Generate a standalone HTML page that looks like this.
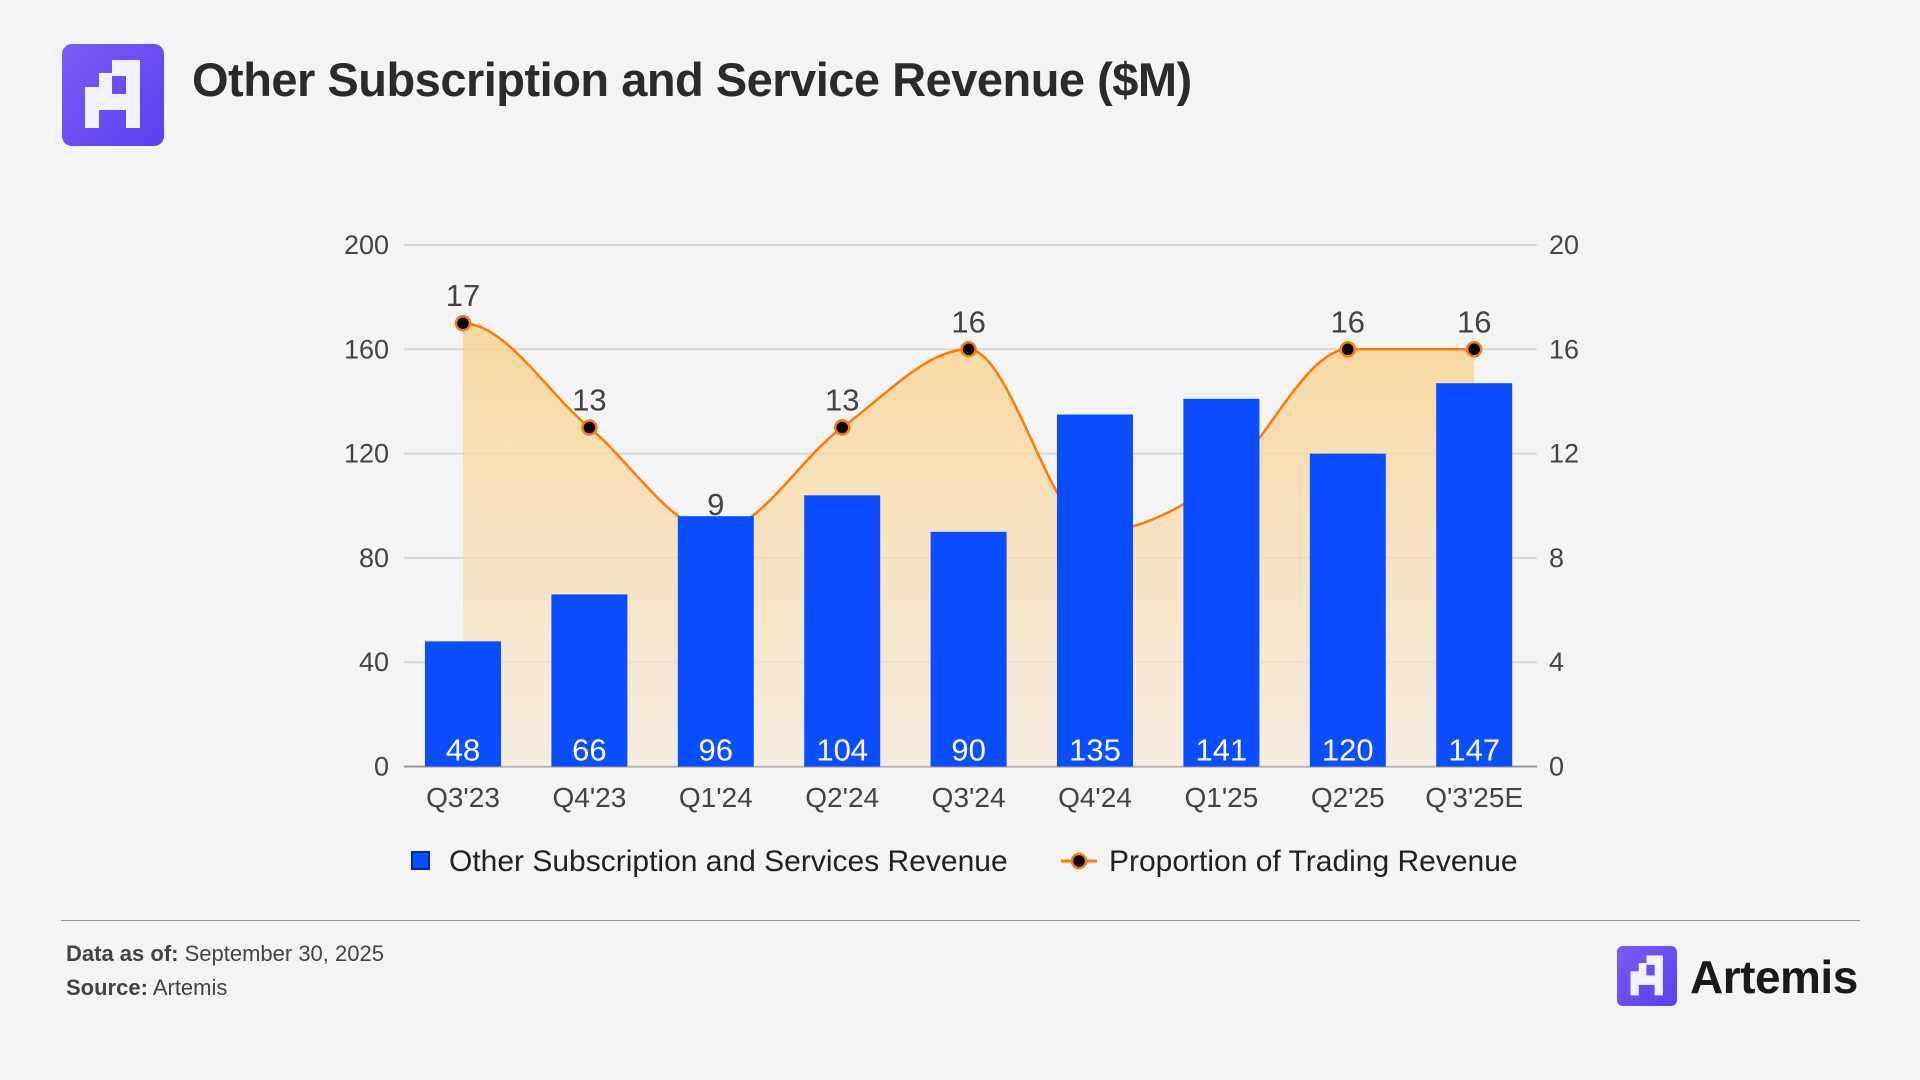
<!DOCTYPE html>
<html><head><meta charset="utf-8"><style>
body{margin:0;width:1920px;height:1080px;background:#f4f4f6;font-family:"Liberation Sans",sans-serif;overflow:hidden;position:relative}
.abs{position:absolute}
</style></head><body>
<svg class="abs" style="left:62px;top:44px" width="102" height="102" viewBox="0 0 102 102">
<defs><linearGradient id="lg" x1="0" y1="0" x2="1" y2="1"><stop offset="0" stop-color="#7b5cf5"/><stop offset="1" stop-color="#5b3ff0"/></linearGradient></defs>
<rect width="102" height="102" rx="10" fill="url(#lg)"/>
<path d="M50 16H78V84H64V66H37V84H23V43H37V29H50Z M50 32H64V50H50Z" fill="#f3f0ff" fill-rule="evenodd"/>
</svg>
<div class="abs" style="left:192px;top:52px;font-size:47px;font-weight:bold;color:#2b2b2e;letter-spacing:-0.5px">Other Subscription and Service Revenue ($M)</div>
<svg id="chart" class="abs" style="left:0;top:0" width="1920" height="900"></svg>
<div class="abs" style="left:61px;top:920px;width:1799px;height:1px;background:#999"></div>
<div class="abs" style="left:66px;top:941px;font-size:22px;color:#444"><b>Data as of:</b> September 30, 2025</div>
<div class="abs" style="left:66px;top:975px;font-size:22px;color:#444"><b>Source:</b> Artemis</div>
<svg class="abs" style="left:1617px;top:946px" width="60" height="60" viewBox="0 0 102 102">
<rect width="102" height="102" rx="10" fill="url(#lg)"/>
<path d="M50 16H78V84H64V66H37V84H23V43H37V29H50Z M50 32H64V50H50Z" fill="#f3f0ff" fill-rule="evenodd"/>
</svg>
<div class="abs" style="left:1690px;top:950px;font-size:46px;font-weight:bold;color:#1a1a1a;letter-spacing:-0.5px">Artemis</div>
<script>
const categories=["Q3'23","Q4'23","Q1'24","Q2'24","Q3'24","Q4'24","Q1'25","Q2'25","Q'3'25E"];
const revenue=[48,66,96,104,90,135,141,120,147];
const proportion=[17,13,9,13,16,9,11,16,16];
const leftTicks=[0,40,80,120,160,200];
const rightTicks=[0,4,8,12,16,20];
const NS="http://www.w3.org/2000/svg";
const svg=document.getElementById('chart');
const L=404,R=1537,Y0=766.5,Y1=245;
const step=126.4;
const x=i=>463+step*i;
const yl=v=>Y0-(Y0-Y1)*v/200;
const yr=v=>Y0-(Y0-Y1)*v/20;
function el(t,a){const e=document.createElementNS(NS,t);for(const k in a)e.setAttribute(k,a[k]);svg.appendChild(e);return e;}
const defs=el('defs',{});
defs.innerHTML='<linearGradient id="ag" x1="0" y1="0" x2="0" y2="1"><stop offset="0" stop-color="#f9d28f" stop-opacity="0.85"/><stop offset="1" stop-color="#f6e9d6" stop-opacity="0.7"/></linearGradient>';
leftTicks.forEach((v,i)=>{
 const g=el('line',{x1:L,x2:R,y1:yl(v),y2:yl(v),stroke:i==0?'#999':'#d8d8d8','stroke-width':2});
 
 const t=el('text',{x:389,y:yl(v)+9,'text-anchor':'end','font-size':27,fill:'#444'});t.textContent=v;
 
});
rightTicks.forEach(v=>{
 const t=el('text',{x:1549,y:yr(v)+9,'font-size':27,fill:'#444'});t.textContent=v;
 
});
const pts=proportion.map((v,i)=>[x(i),yr(v)]);
const n=pts.length,sec=[],m=[];
for(let i=0;i<n-1;i++)sec.push((pts[i+1][1]-pts[i][1])/(pts[i+1][0]-pts[i][0]));
for(let i=0;i<n;i++){
 if(i==0)m.push(sec[0]);else if(i==n-1)m.push(sec[n-2]);
 else m.push(sec[i-1]*sec[i]<=0?0:(sec[i-1]+sec[i])/2);
}
m[0]=0;m[n-1]=0;
let d='M'+pts[0][0]+','+pts[0][1];
for(let i=0;i<n-1;i++){
 const h=(pts[i+1][0]-pts[i][0])/3;
 d+=` C${pts[i][0]+h},${pts[i][1]+m[i]*h} ${pts[i+1][0]-h},${pts[i+1][1]-m[i+1]*h} ${pts[i+1][0]},${pts[i+1][1]}`;
}
const area=el('path',{d:d+` L${pts[n-1][0]},${Y0} L${pts[0][0]},${Y0} Z`,fill:'url(#ag)'});

const line=el('path',{d:d,fill:'none',stroke:'#ff7a00','stroke-width':2.5});

proportion.forEach((v,i)=>{
 const c=el('circle',{cx:x(i),cy:yr(v),r:7,fill:'#000',stroke:'#ff7a00','stroke-width':2.5});
 
});
const bw=76;
revenue.forEach((v,i)=>{
 const b=el('rect',{x:x(i)-bw/2,y:yl(v),width:bw,height:Y0-yl(v),fill:'#0a4eff'});
 
 const t=el('text',{x:x(i),y:Y0-6,'text-anchor':'middle','font-size':31,fill:'#fff'});t.textContent=v;
 
 const xl=el('text',{x:x(i),y:807,'text-anchor':'middle','font-size':28,fill:'#444'});xl.textContent=categories[i];
 
});
proportion.forEach((v,i)=>{
 const ly=yr(v)-17;
 if(ly-4>yl(revenue[i]))return;
 const t=el('text',{x:x(i),y:ly,'text-anchor':'middle','font-size':31,fill:'#444'});t.textContent=v;
 
});
const lg1=el('rect',{x:412,y:852,width:17,height:17,fill:'#0a4eff',stroke:'#002a99','stroke-width':2});

const lt1=el('text',{x:449,y:871,'font-size':30,fill:'#222'});lt1.textContent='Other Subscription and Services Revenue';

const ll=el('line',{x1:1061,x2:1097,y1:861,y2:861,stroke:'#ff7a00','stroke-width':3});

const lc=el('circle',{cx:1079,cy:861,r:7,fill:'#000',stroke:'#ff7a00','stroke-width':2.5});

const lt2=el('text',{x:1109,y:871,'font-size':30,fill:'#222'});lt2.textContent='Proportion of Trading Revenue';

</script>
</body></html>
